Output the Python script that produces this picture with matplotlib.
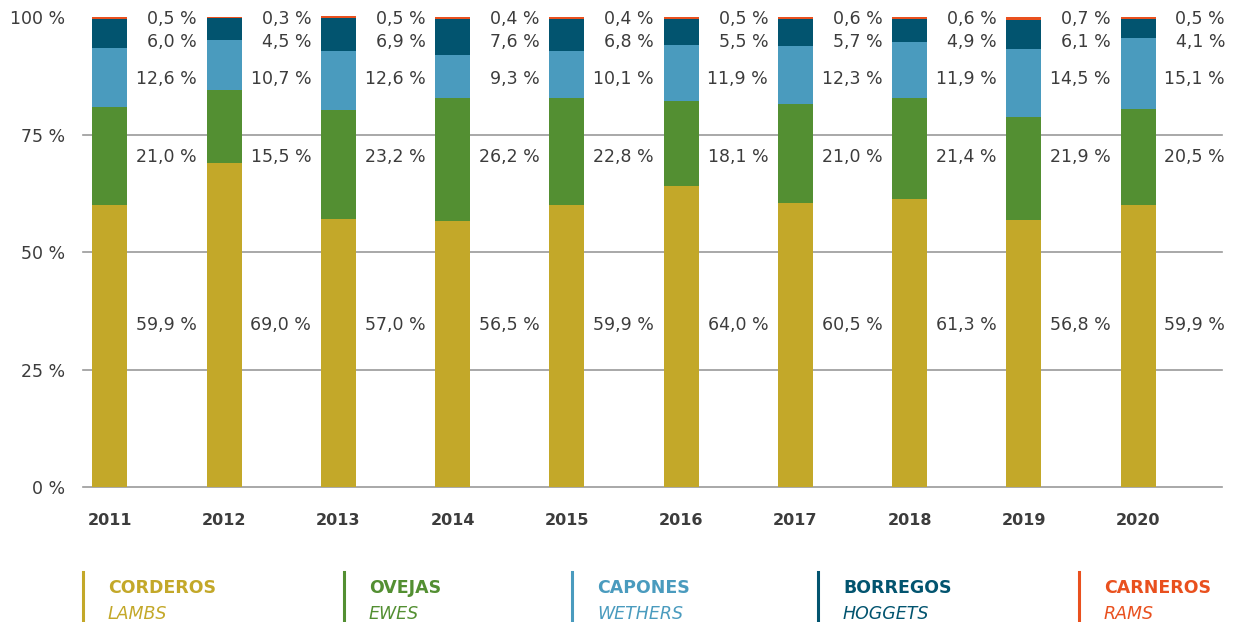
import matplotlib
matplotlib.use("Agg")
from matplotlib import pyplot as plt
from matplotlib.lines import Line2D
import numpy as np

plt.rcParams["font.family"] = ["DejaVu Sans"]

years = ["2011", "2012", "2013", "2014", "2015", "2016", "2017", "2018", "2019", "2020"]
corderos = [59.9, 69.0, 57.0, 56.5, 59.9, 64.0, 60.5, 61.3, 56.8, 59.9]
ovejas = [21.0, 15.5, 23.2, 26.2, 22.8, 18.1, 21.0, 21.4, 21.9, 20.5]
capones = [12.6, 10.7, 12.6, 9.3, 10.1, 11.9, 12.3, 11.9, 14.5, 15.1]
borregos = [6.0, 4.5, 6.9, 7.6, 6.8, 5.5, 5.7, 4.9, 6.1, 4.1]
carneros = [0.5, 0.3, 0.5, 0.4, 0.4, 0.5, 0.6, 0.6, 0.7, 0.5]

series = [corderos, ovejas, capones, borregos, carneros]
names_es = ["CORDEROS", "OVEJAS", "CAPONES", "BORREGOS", "CARNEROS"]
names_en = ["LAMBS", "EWES", "WETHERS", "HOGGETS", "RAMS"]
colors = ["#C3A829", "#538F32", "#4A9BBE", "#02546F", "#E9501E"]
label_rows = [34.5, 70.2, 86.8, 94.7, 99.6]
yticks = [0, 25, 50, 75, 100]

text_color = "#3C3C3C"

fig = plt.figure(figsize=(12.38, 6.22), dpi=100)
ax = fig.add_axes([83 / 1238, 135 / 622, (1222 - 83) / 1238, 477 / 622])

x = np.arange(len(years))
bottom = np.zeros(len(years))
for vals, col in zip(series, colors):
    ax.bar(x, vals, bottom=bottom, width=0.306, color=col, zorder=3)
    bottom += np.array(vals)

for vals, ry in zip(series, label_rows):
    for i, v in enumerate(vals):
        ax.text(i + 0.762, ry, f"{v:.1f} %".replace(".", ","), ha="right", va="center",
                fontsize=12.5, color=text_color)

for i, yr in enumerate(years):
    ax.text(i, -7.2, yr, ha="center", va="center", fontsize=11.5, fontweight="bold",
            color=text_color, clip_on=False)

for t in yticks[:-1]:
    ax.axhline(t, color="#9A9A9A", linewidth=1.2, zorder=1, clip_on=False)

ax.set_xlim(-0.236, 9.735)
ax.set_ylim(0, 101.5)
ax.set_xticks([])
ax.set_yticks(yticks)
ax.set_yticklabels([f"{t} %" for t in yticks], fontsize=12.5, color=text_color)
ax.tick_params(axis="y", length=0, pad=13)
for s in ax.spines.values():
    s.set_visible(False)

# legend blocks
leg_x = [83, 344, 572, 818, 1079]
for lx, es, en, col in zip(leg_x, names_es, names_en, colors):
    fig.add_artist(Line2D([lx / 1238, lx / 1238], [0, 50 / 622], color=col, linewidth=2.2))
    fig.text((lx + 25) / 1238, 1 - 588 / 622, es, color=col, fontsize=12.5,
             fontweight="bold", va="center", ha="left")
    fig.text((lx + 25) / 1238, 1 - 614 / 622, en, color=col, fontsize=12.5,
             style="italic", va="center", ha="left")

fig.savefig("out.png", dpi=100)
